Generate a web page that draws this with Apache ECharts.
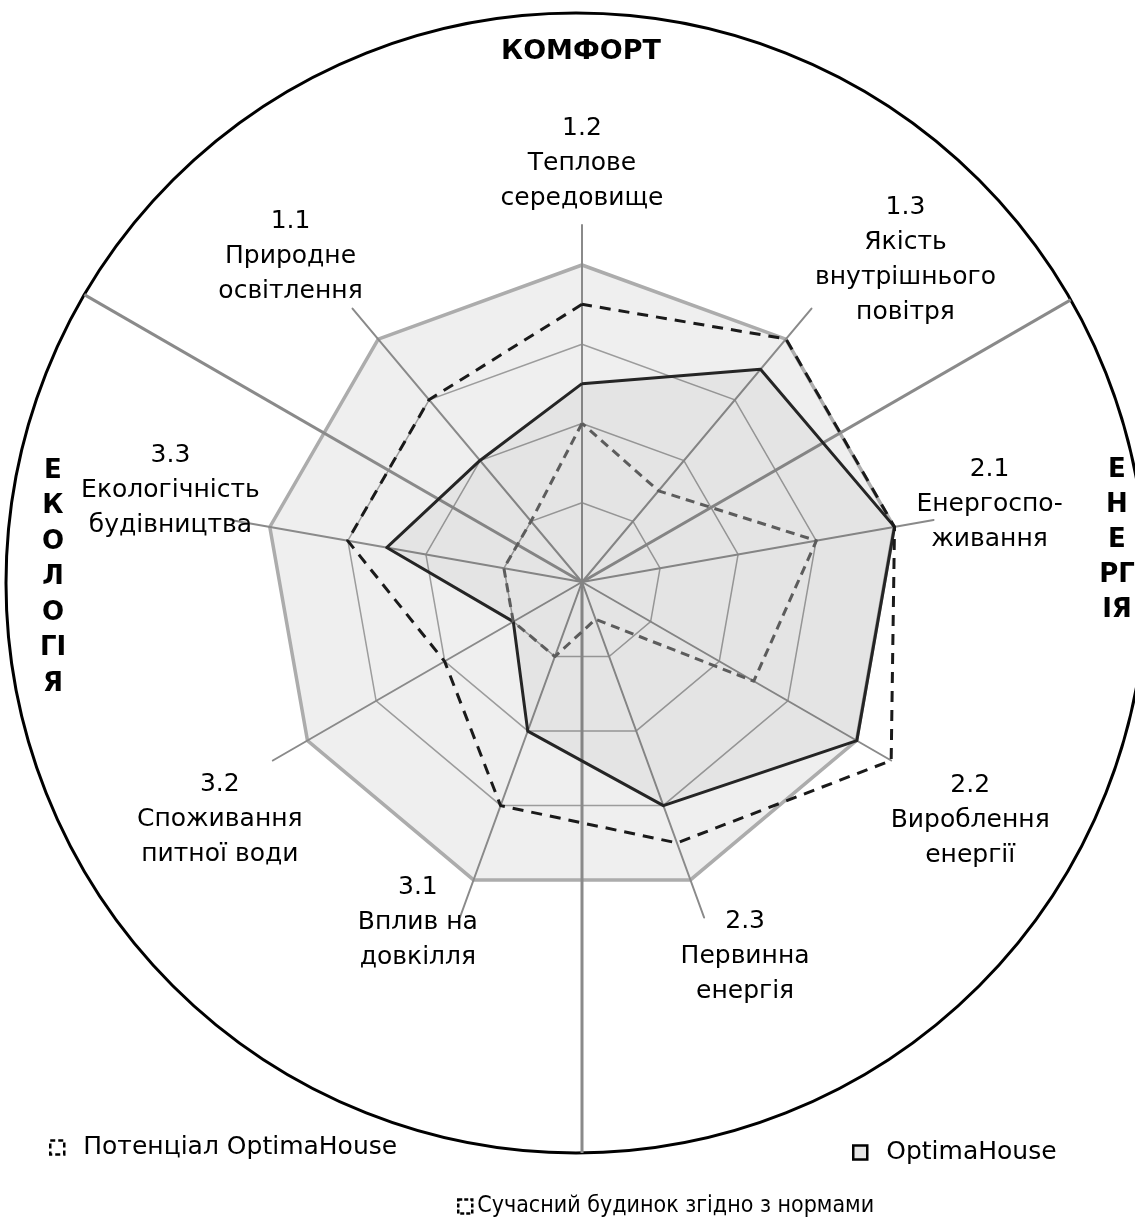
<!DOCTYPE html>
<html lang="uk">
<head>
    <meta charset="UTF-8">
    <title>OptimaHouse: комфорт, енергія, екологія</title>
    <script type="text/javascript" src="https://cdn.jsdelivr.net/npm/echarts@6/dist/echarts.min.js"></script>
    <style>
        html, body {
            margin: 0;
            padding: 0;
            background: #fff;
        }

        #main {
            width: 1135px;
            height: 1228px;
        }
    </style>
</head>

<body>
    <div id="main"></div>

    <script type="text/javascript">
        // осі за годинниковою стрілкою, починаючи згори (1.2)
        var axisNames = [
            '1.2\nТеплове\nсередовище',
            '1.3\nЯкість\nвнутрішнього\nповітря',
            '2.1\nЕнергоспо-\nживання',
            '2.2\nВироблення\nенергії',
            '2.3\nПервинна\nенергія',
            '3.1\nВплив на\nдовкілля',
            '3.2\nСпоживання\nпитної води',
            '3.3\nЕкологічність\nбудівництва',
            '1.1\nПриродне\nосвітлення'
        ];
        var optimaHouse = [2.5, 3.5, 4, 4, 3, 2, 1, 2.5, 2];
        var potential = [3.5, 4, 4, 4.5, 3.5, 3, 2, 3, 3];
        var modernHouse = [2, 1.5, 3, 2.5, 0.5, 1, 1, 1, 1];
        var seriesNames = ['Потенціал OptimaHouse', 'OptimaHouse', 'Сучасний будинок згідно з нормами'];
        var sectionNames = ['КОМФОРТ', 'Е\nН\nЕ\nРГ\nІЯ', 'Е\nК\nО\nЛ\nО\nГІ\nЯ'];
        var scaleMax = 4;   // зовнішнє кільце
        var axisMax = 4.5;  // кінці осей

        var center = [582, 582];
        var axisRadius = 357;
        var font = '"DejaVu Sans", Verdana, sans-serif';
        // зсув центру підпису від кінця осі, px
        var labelOffset = [[0, -62], [94, -49], [56, -16], [79, 60], [41, 39],
            [-42, 5], [-53, 59], [-60, -30], [-62, -52]];

        // echarts малює радар проти годинникової стрілки
        function ccw(arr) {
            return [arr[0]].concat(arr.slice(1).reverse());
        }

        function indicators(max) {
            return ccw(axisNames).map(function (n) {
                return { name: n, min: 0, max: max };
            });
        }

        var myChart = echarts.init(document.getElementById('main'));

        // межі секцій і велике коло
        var ring = { cx: 576, cy: 583, r: 570 };
        var dividers = [30, 150, 270].map(function (deg) {
            var a = deg * Math.PI / 180;
            var dx = Math.cos(a), dy = -Math.sin(a);
            // точка перетину променя з колом
            var ox = center[0] - ring.cx, oy = center[1] - ring.cy;
            var b = ox * dx + oy * dy;
            var t = -b + Math.sqrt(b * b - (ox * ox + oy * oy - ring.r * ring.r));
            return {
                type: 'line',
                z: 1,
                shape: {
                    x1: center[0], y1: center[1],
                    x2: center[0] + t * dx, y2: center[1] + t * dy
                },
                style: { stroke: '#8a8a8a', lineWidth: 3 }
            };
        });

        // підписи осей біля кінців осей
        var axisLabels = axisNames.map(function (name, i) {
            var a = (90 - 40 * i) * Math.PI / 180;
            return {
                type: 'text',
                z: 5,
                x: center[0] + axisRadius * Math.cos(a) + labelOffset[i][0],
                y: center[1] - axisRadius * Math.sin(a) + labelOffset[i][1],
                style: {
                    text: name, font: '25px ' + font, lineHeight: 35,
                    fill: '#000', align: 'center', verticalAlign: 'middle'
                }
            };
        });

        var option = {
            animation: false,
            backgroundColor: '#fff',
            textStyle: { fontFamily: font },
            legend: [{
                left: 44, top: 1130,
                data: [{
                    name: seriesNames[0], icon: 'rect',
                    itemStyle: { color: '#fff', borderColor: '#000', borderWidth: 2.5, borderType: [5, 3] }
                }]
            }, {
                left: 847, top: 1135,
                data: [{
                    name: seriesNames[1], icon: 'rect',
                    itemStyle: { color: '#e4e4e4', borderColor: '#000', borderWidth: 2.5 }
                }]
            }, {
                left: 452, top: 1190,
                data: [{
                    name: seriesNames[2], icon: 'rect',
                    itemStyle: { color: '#fff', borderColor: '#000', borderWidth: 2.5, borderType: [4, 2] }
                }],
                textStyle: {
                    fontFamily: '"Liberation Sans Narrow", "DejaVu Sans Condensed", sans-serif',
                    fontSize: 23, color: '#000', padding: [0, 0, 0, 0]
                }
            }].map(function (l) {
                l.selectedMode = false;
                l.itemWidth = 14;
                l.itemHeight = 14;
                l.itemGap = 8;
                l.textStyle = l.textStyle || { fontFamily: font, fontSize: 25, color: '#000', padding: [0, 0, 0, 14] };
                return l;
            }),
            graphic: [{
                type: 'circle',
                z: 1,
                shape: ring,
                style: { fill: null, stroke: '#000', lineWidth: 3 }
            }].concat(dividers).concat(axisLabels).concat([{
                type: 'text', x: 581, y: 52, z: 5,
                style: {
                    text: sectionNames[0], font: 'bold 27px ' + font,
                    fill: '#000', align: 'center', verticalAlign: 'middle'
                }
            }, {
                type: 'text', x: 1117, y: 453, z: 5,
                style: {
                    text: sectionNames[1], font: 'bold 26px ' + font, lineHeight: 35,
                    fill: '#000', align: 'center', verticalAlign: 'top'
                }
            }, {
                type: 'text', x: 53, y: 453, z: 5,
                style: {
                    text: sectionNames[2], font: 'bold 26px ' + font, lineHeight: 35.5,
                    fill: '#000', align: 'center', verticalAlign: 'top'
                }
            }]),
            radar: [{
                // фон шкали і зовнішній контур
                center: center, radius: 317, startAngle: 90, z: 0,
                splitNumber: 1,
                indicator: indicators(scaleMax),
                axisName: { show: false },
                axisLine: { show: false },
                splitLine: { lineStyle: { color: '#acacac', width: 3.5 } },
                splitArea: { areaStyle: { color: ['#efefef'] } }
            }, {
                // внутрішні кільця
                center: center, radius: 317, startAngle: 90, z: 0,
                splitNumber: 4,
                indicator: indicators(scaleMax),
                axisName: { show: false },
                axisLine: { show: false },
                splitLine: {
                    lineStyle: {
                        color: ['#9c9c9c', '#9c9c9c', '#9c9c9c', '#9c9c9c', 'rgba(0,0,0,0)'],
                        width: 1.5
                    }
                },
                splitArea: { show: false }
            }, {
                // осі (довші за шкалу)
                center: center, radius: axisRadius, startAngle: 90, z: 0,
                indicator: indicators(axisMax),
                axisName: { show: false },
                axisLine: { lineStyle: { color: '#8a8a8a', width: 2 } },
                splitLine: { show: false },
                splitArea: { show: false }
            }],
            series: [{
                type: 'radar',
                radarIndex: 2,
                z: 3,
                symbol: 'none',
                silent: true,
                data: [{
                    name: seriesNames[1],
                    value: ccw(optimaHouse),
                    lineStyle: { color: '#262626', width: 3 },
                    areaStyle: { color: 'rgba(0,0,0,0.06)' }
                }, {
                    name: seriesNames[2],
                    value: ccw(modernHouse),
                    lineStyle: { color: '#5c5c5c', width: 3, type: [9, 6] }
                }, {
                    name: seriesNames[0],
                    value: ccw(potential),
                    lineStyle: { color: '#1a1a1a', width: 3, type: [11, 8] }
                }]
            }]
        };

        myChart.setOption(option);
    </script>
</body>

</html>
